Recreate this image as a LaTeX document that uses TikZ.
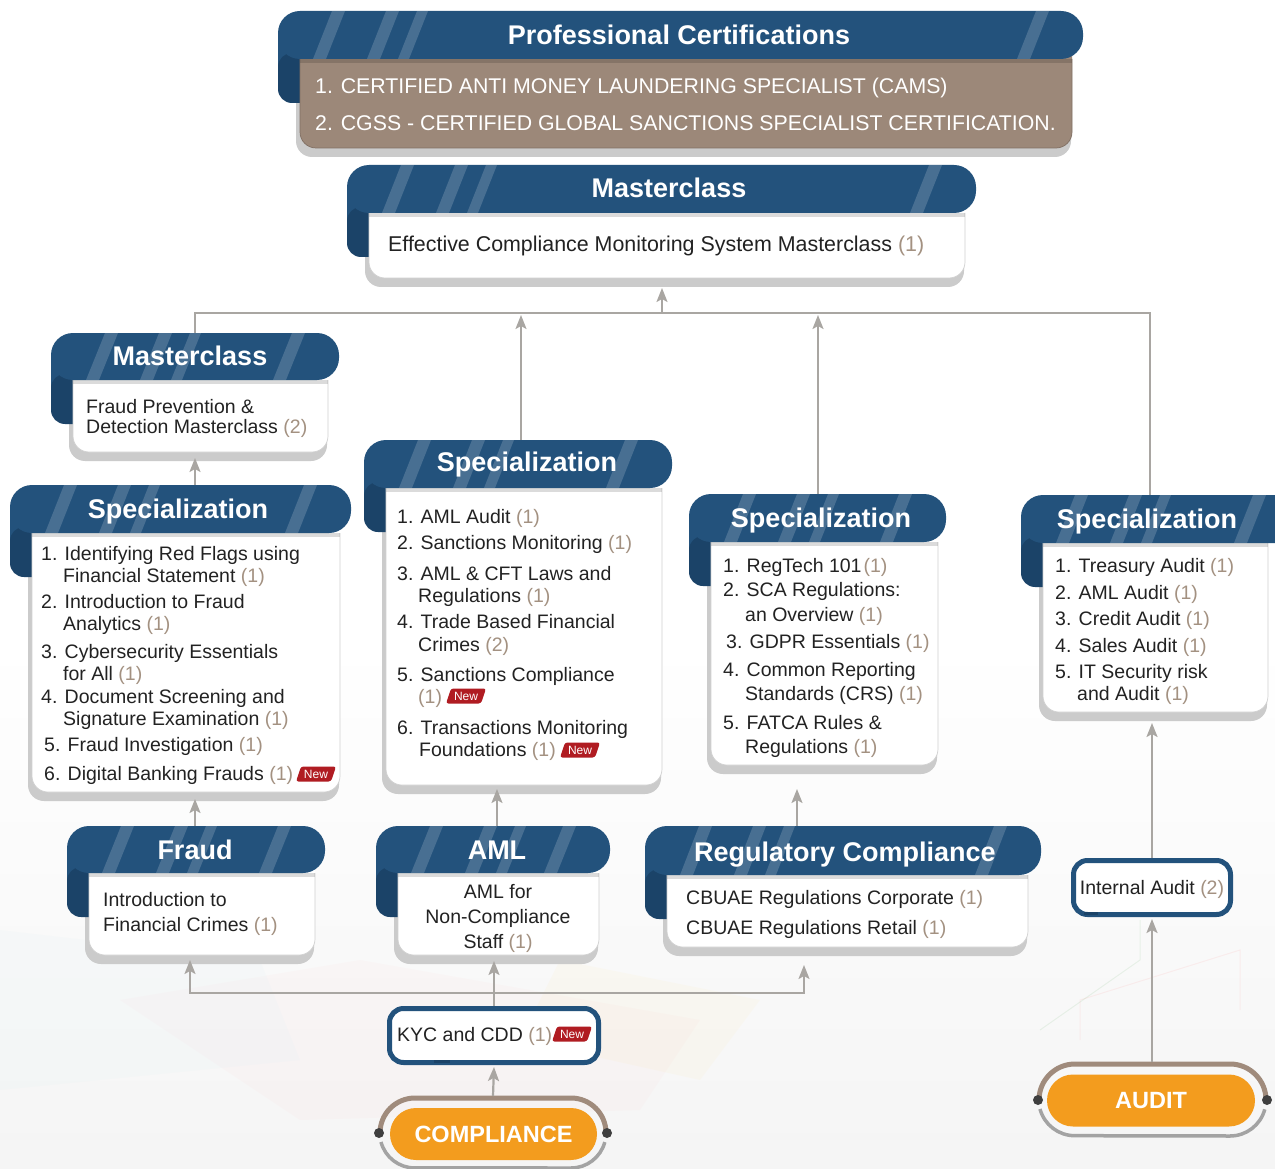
\documentclass[tikz,border=0pt]{standalone}
\usepackage{fontspec}
\setmainfont{Liberation Sans}
\usetikzlibrary{arrows.meta}

\definecolor{hdrblue}{HTML}{23527C}
\definecolor{curlblue}{HTML}{1B4368}
\definecolor{brownbody}{HTML}{9C8879}
\definecolor{shadowgray}{HTML}{CBCBCB}
\definecolor{cntcol}{HTML}{A39181}
\definecolor{inkcol}{HTML}{222222}
\definecolor{linkgray}{HTML}{A9A6A2}
\definecolor{badgered}{HTML}{B01C22}
\definecolor{btnorange}{HTML}{F39C1E}
\definecolor{ringbrown}{HTML}{A08B7C}
\definecolor{ringgray}{HTML}{A3A3A3}
\definecolor{dotgray}{HTML}{3F3F3F}

% course count in brackets
\newcommand\cnt[1]{\textcolor{cntcol}{(#1)}}

% ribbon card: #1 left x, #2 header right x, #3 header top y, #4 header bottom y,
% #5 body right x, #6 body bottom y, #7 body colour
\newcommand\ribbon[7]{%
  \fill[shadowgray, rounded corners=16] (#1+18,#4-20) rectangle (#5-1,#6+9);
  \fill[hdrblue] (#1,#4-22) rectangle (#1+30,#4+12);
  \fill[curlblue, rounded corners=14] (#1,#4-6) rectangle (#1+40,#4+44);
  \fill[#7, rounded corners=16] (#1+22,#4-20) rectangle (#5,#6);
  \draw[#7!82!black, line width=0.7pt, rounded corners=16] (#1+22,#4) -- (#1+22,#6) -- (#5,#6) -- (#5,#4);
  \fill[hdrblue, rounded corners=22] (#1,#3) rectangle (#2,#4);
  \fill[black, opacity=.14] (#1+22,#4) rectangle (#5,#4+4);
  \begin{scope}
    \clip[rounded corners=22] (#1,#3) rectangle (#2,#4);
    \foreach \s/\w in {35/13, 89/13, 120/11} {
      \fill[white, opacity=.17] (#1+\s,#4) -- (#1+\s+\w,#4) -- (#1+\s+\w+19,#3) -- (#1+\s+19,#3) -- cycle;
    }
    \fill[white, opacity=.17] (#2-66,#4) -- (#2-53,#4) -- (#2-34,#3) -- (#2-47,#3) -- cycle;
  \end{scope}
}

% red "New" tag
\newcommand\newtag[3]{%
  \fill[badgered, rounded corners=2.5] (#2-20,#3+7.5) -- (#2+15,#3+7.5) -- (#2+20,#3-7.5) -- (#2-15,#3-7.5) -- cycle;
  \node[tagtext] (#1) at (#2,#3) {New};
}

% list line: name, x, vertical centre of the text, text
\newcommand\itm[4]{\node[itm] (#1) at (#2,#3+7) {#4};}

\begin{document}
\begin{tikzpicture}[x=1pt, y=-1pt,
  ttl/.style={text=white, font=\bfseries\fontsize{27}{30}\selectfont, inner sep=0, anchor=base},
  itm/.style={text=inkcol, font=\fontsize{19.5}{22}\selectfont, inner sep=0, anchor=base west},
  itmc/.style={itm, anchor=base},
  cert/.style={text=white, font=\fontsize{21.3}{24}\selectfont, inner sep=0, anchor=base west},
  tagtext/.style={text=white, font=\fontsize{12}{12}\selectfont, inner sep=0},
  framebox/.style={draw=hdrblue, line width=5pt, rounded corners=14, fill=white, inner sep=0},
  pill/.style={fill=btnorange, rounded corners=26, minimum height=52, text=white,
               font=\bfseries\fontsize{23.5}{26}\selectfont, inner sep=0},
  link/.style={draw=linkgray, line width=2.2pt},
  tip/.style={-{Stealth[length=14pt, width=11pt, inset=3pt]}},
]
\useasboundingbox (0,0) rectangle (1275,1169);
\fill[white] (0,0) rectangle (1275,1169);

% faint chart backdrop at the foot of the page
\shade[top color=white, bottom color=black!4] (0,640) rectangle (1275,1169);
\fill[red!60, opacity=.025] (120,1000) -- (360,960) -- (700,1020) -- (640,1110) -- (300,1120) -- cycle;
\fill[cyan!60, opacity=.025] (0,930) -- (260,960) -- (300,1060) -- (0,1090) -- cycle;
\fill[yellow!70!orange, opacity=.03] (560,960) -- (760,1000) -- (700,1080) -- (520,1040) -- cycle;
\draw[red!50, opacity=.10, line width=1pt] (1080,1040) -- (1080,1000) -- (1240,950) -- (1240,1010);
\draw[green!50!black, opacity=.07, line width=1pt] (1040,1030) -- (1140,960) -- (1140,920);

% ---------------- cards ----------------
\ribbon{278}{1083}{11}{59}{1072}{148}{brownbody}
\ribbon{347}{976}{165}{213}{965}{278}{white}
\ribbon{51}{339}{333}{380}{328}{452}{white}
\ribbon{10}{351}{485}{533}{340}{792}{white}
\ribbon{364}{672}{440}{488}{662}{785}{white}
\ribbon{689}{946}{494}{542}{938}{765}{white}
\ribbon{1021}{1300}{495}{543}{1268}{712}{white}
\ribbon{67}{325}{826}{873}{315}{955}{white}
\ribbon{376}{610}{826}{873}{599}{955}{white}
\ribbon{645}{1041}{826}{875}{1028}{947}{white}

% ---------------- titles ----------------
\node[ttl] (pcT) at (679,45) {Professional Certifications};
\node[ttl] (mcT) at (669,198) {Masterclass};
\node[ttl] (mlT) at (190,365) {Masterclass};
\node[ttl] (s1T) at (178,518) {Specialization};
\node[ttl] (s2T) at (527,471) {Specialization};
\node[ttl] (s3T) at (821,527) {Specialization};
\node[ttl] (s4T) at (1147,528) {Specialization};
\node[ttl] (frT) at (195,859) {Fraud};
\node[ttl] (amT) at (497,859) {AML};
\node[ttl] (rcT) at (845,861) {Regulatory Compliance};

% ---------------- card contents ----------------
\node[cert] (pc1) at (315,94) {1. CERTIFIED ANTI MONEY LAUNDERING SPECIALIST (CAMS)};
\node[cert] (pc2) at (315,131) {2. CGSS - CERTIFIED GLOBAL SANCTIONS SPECIALIST CERTIFICATION.};

\node[itm, font=\fontsize{21.4}{24}\selectfont] (mca) at (388,251.5) {Effective Compliance Monitoring System Masterclass \cnt1};

\itm{mla}{86}{406}{Fraud Prevention \&}
\itm{mlb}{86}{426}{Detection Masterclass \cnt2}

\itm{s1a}{41}{553}{1. Identifying Red Flags using}
\itm{s1b}{63}{575}{Financial Statement \cnt1}
\itm{s1c}{41}{601}{2. Introduction to Fraud}
\itm{s1d}{63}{623}{Analytics \cnt1}
\itm{s1e}{41}{651}{3. Cybersecurity Essentials}
\itm{s1f}{63}{673}{for All \cnt1}
\itm{s1g}{41}{696}{4. Document Screening and}
\itm{s1h}{63}{718}{Signature Examination \cnt1}
\itm{s1i}{44}{744}{5. Fraud Investigation \cnt1}
\itm{s1j}{44}{773}{6. Digital Banking Frauds \cnt1}
\newtag{nw1}{316}{774}

\itm{s2a}{397}{516}{1. AML Audit \cnt1}
\itm{s2b}{397}{542}{2. Sanctions Monitoring \cnt1}
\itm{s2c}{397}{573}{3. AML \& CFT Laws and}
\itm{s2d}{418}{595}{Regulations \cnt1}
\itm{s2e}{397}{621}{4. Trade Based Financial}
\itm{s2f}{418}{644}{Crimes \cnt2}
\itm{s2g}{397}{674}{5. Sanctions Compliance}
\itm{s2h}{418}{696}{\cnt1}
\newtag{nw2}{466}{696}
\itm{s2i}{397}{727}{6. Transactions Monitoring}
\itm{s2j}{419}{749}{Foundations \cnt1}
\newtag{nw3}{580}{750}

\itm{s3a}{723}{565}{1. RegTech 101\hspace{2pt}\cnt1}
\itm{s3b}{723}{589}{2. SCA Regulations:}
\itm{s3c}{745}{614}{an Overview \cnt1}
\itm{s3d}{726}{641}{3. GDPR Essentials \cnt1}
\itm{s3e}{723}{669}{4. Common Reporting}
\itm{s3f}{745}{693}{Standards (CRS) \cnt1}
\itm{s3g}{723}{722}{5. FATCA Rules \&}
\itm{s3h}{745}{746}{Regulations \cnt1}

\itm{s4a}{1055}{565}{1. Treasury Audit \cnt1}
\itm{s4b}{1055}{592}{2. AML Audit \cnt1}
\itm{s4c}{1055}{618}{3. Credit Audit \cnt1}
\itm{s4d}{1055}{645}{4. Sales Audit \cnt1}
\itm{s4e}{1055}{671}{5. IT Security risk}
\itm{s4f}{1077}{693}{and Audit \cnt1}

\itm{fra}{103}{899}{Introduction to}
\itm{frb}{103}{924}{Financial Crimes \cnt1}

\node[itmc] (ama) at (498,898) {AML for};
\node[itmc] (amb) at (498,923) {Non-Compliance};
\node[itmc] (amc) at (498,948) {Staff \cnt1};

\itm{rca}{686}{897}{CBUAE Regulations Corporate \cnt1}
\itm{rcb}{686}{927}{CBUAE Regulations Retail \cnt1}

% ---------------- framed boxes ----------------
\node[framebox, minimum width=209, minimum height=54] (kyc) at (494,1035.5) {};
\fill[curlblue] (434,1060) rectangle (450,1062.5);
\itm{kyct}{397}{1034}{KYC and CDD \cnt1}
\newtag{nw4}{572}{1034}

\node[framebox, minimum width=157, minimum height=54] (ia) at (1152,887.5) {};
\fill[curlblue] (1084,912) rectangle (1098,914.5);
\node[itmc] (iat) at (1152,894) {Internal Audit \cnt2};

% ---------------- buttons ----------------
\draw[ringbrown, line width=5pt] (380,1133) arc[start angle=180, end angle=270, radius=35]
  -- (571,1098) arc[start angle=270, end angle=360, radius=35];
\draw[ringgray, line width=3.5pt] (381,1142) arc[start angle=165, end angle=90, radius=35]
  -- (571,1168) arc[start angle=90, end angle=15, radius=35];
\fill[dotgray] (379,1133) circle[radius=5];
\fill[dotgray] (607,1133) circle[radius=5];
\node[pill, minimum width=207] (cmpl) at (493.5,1134) {COMPLIANCE};
\coordinate (cmplTop) at (493,1096);

\draw[ringbrown, line width=5pt] (1039,1100) arc[start angle=180, end angle=270, radius=36]
  -- (1230,1064) arc[start angle=270, end angle=360, radius=36];
\draw[ringgray, line width=3.5pt] (1040,1109) arc[start angle=165, end angle=90, radius=36]
  -- (1230,1136) arc[start angle=90, end angle=15, radius=36];
\fill[dotgray] (1038,1100) circle[radius=5];
\fill[dotgray] (1267,1100) circle[radius=5];
\node[pill, minimum width=208] (aud) at (1151,1100.5) {AUDIT};
\coordinate (audTop) at (1152,1062);

% ---------------- connection points ----------------
\coordinate (mcBot) at (662,288);
\coordinate (busMid) at (662,313);
\coordinate (busL) at (195,313);
\coordinate (busR) at (1150,313);
\coordinate (busAml) at (521,315);
\coordinate (busReg) at (818,315);
\coordinate (mlTop) at (195,333);
\coordinate (mlBot) at (195,458);
\coordinate (s1Top) at (195,485);
\coordinate (s1Bot) at (195,799);
\coordinate (s2Top) at (521,440);
\coordinate (s2Bot) at (497,789);
\coordinate (s3Top) at (818,494);
\coordinate (s3Bot) at (797,789);
\coordinate (s4Top) at (1150,495);
\coordinate (s4Bot) at (1152,723);
\coordinate (frTop) at (195,826);
\coordinate (frBot) at (190,960);
\coordinate (amTop) at (497,826);
\coordinate (amBot) at (494,961);
\coordinate (rcTop) at (797,826);
\coordinate (rcBot) at (804,965);
\coordinate (busB) at (494,993);
\coordinate (iaTop) at (1152,858);
\coordinate (iaBot) at (1152,919);
\coordinate (kycBot) at (494,1067);
\coordinate (kycTop) at (494,1006);

% ---------------- connectors ----------------
\draw[link] (mlTop) -- (busL) -- (busR) -- (s4Top);
\draw[link, tip] (busMid) -- (mcBot);
\draw[link, tip] (s2Top) -- (busAml);
\draw[link, tip] (s3Top) -- (busReg);
\draw[link, tip] (s1Top) -- (mlBot);
\draw[link, tip] (frTop) -- (s1Bot);
\draw[link, tip] (amTop) -- (s2Bot);
\draw[link, tip] (rcTop) -- (s3Bot);
\draw[link, tip] (iaTop) -- (s4Bot);
\draw[link, tip] (audTop) -- (iaBot);
\draw[link, tip] (cmplTop) -- (kycBot);
\draw[link] (kycTop) -- (busB);
\draw[link, tip] (busB) -| (frBot);
\draw[link, tip] (busB) -| (rcBot);
\draw[link, tip] (busB) -- (amBot);
\end{tikzpicture}
\end{document}
